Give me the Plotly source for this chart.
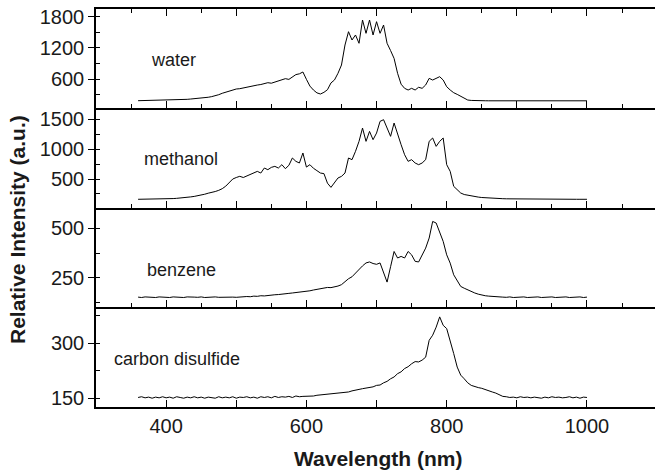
import plotly.graph_objects as go

# ---- data ----
wavelength = list(range(360, 1001, 5))  # nm

water = [
    190, 191, 192, 193, 194, 195, 196, 198,
    200, 202, 204, 206, 209, 212, 216, 222,
    226, 230, 236, 245, 256, 268, 280, 305,
    332, 355, 376, 395, 414, 420, 435, 445,
    470, 478, 490, 500, 515, 535, 525, 548,
    560, 590, 612, 598, 650, 690, 705, 740,
    600, 470, 395, 340, 318, 350, 400, 530,
    587, 715, 874, 1257, 1512, 1353, 1449, 1290,
    1736, 1481, 1736, 1449, 1704, 1481, 1640, 1290,
    1150, 1000, 715, 506, 427, 395, 427, 395,
    447, 427, 491, 618, 586, 618, 650, 586,
    458, 395, 343, 311, 280, 235, 203, 195,
    190, 189, 188, 189, 188, 188, 189, 188,
    188, 189, 188, 188, 189, 188, 188, 189,
    188, 188, 189, 188, 188, 189, 188, 188,
    189, 188, 188, 189, 188, 188, 189, 188,
    188,
]

methanol = [
    160, 160, 161, 162, 163, 164, 165, 166,
    168, 170, 172, 176, 180, 186, 192, 200,
    208, 218, 230, 245, 262, 272, 290, 310,
    338, 380, 440, 500, 525, 545, 525, 550,
    572, 600, 628, 600, 684, 656, 695, 712,
    684, 740, 673, 729, 852, 796, 768, 936,
    700, 740, 680, 640, 600, 590, 430, 360,
    433, 517, 544, 600, 852, 824, 964, 1131,
    1354, 1131, 1298, 1159, 1270, 1466, 1494, 1354,
    1215, 1438, 1242, 1075, 907, 796, 824, 768,
    740, 768, 824, 1131, 1187, 1047, 1131, 1187,
    740, 628, 377, 321, 265, 240, 226, 215,
    204, 197, 190, 185, 180, 177, 174, 172,
    170, 168, 167, 166, 165, 165, 164, 164,
    163, 163, 163, 162, 162, 162, 162, 161,
    161, 161, 161, 161, 160, 160, 160, 160,
    160,
]

benzene = [
    152, 150, 153, 151, 152, 150, 153, 151,
    152, 150, 153, 151, 152, 150, 153, 151,
    152, 151, 153, 150, 152, 151, 153, 151,
    152, 150, 153, 152, 151, 153, 152, 155,
    154, 157, 156, 159, 158, 161, 162, 164,
    165, 168, 169, 171, 173, 175, 176, 179,
    181, 184, 188, 191, 194, 198, 201, 200,
    203, 208, 215, 230, 245, 255, 275, 290,
    310, 325, 330, 322, 318, 325, 280, 228,
    306, 383, 350, 358, 350, 383, 366, 333,
    330, 366, 400, 451, 535, 527, 485, 434,
    366, 324, 265, 235, 206, 197, 188, 180,
    173, 167, 162, 159, 157, 155, 154, 153,
    152, 151, 153, 150, 152, 151, 153, 150,
    152, 151, 153, 150, 152, 151, 153, 150,
    152, 151, 153, 150, 152, 151, 153, 150,
    152,
]

carbon_disulfide = [
    152, 154, 151, 153, 150, 153, 151, 154,
    151, 153, 150, 154, 152, 150, 153, 151,
    154, 151, 153, 150, 153, 152, 150, 154,
    151, 153, 151, 154, 150, 153, 152, 154,
    151, 153, 150, 154, 152, 154, 151, 155,
    152, 154, 153, 155, 152, 156, 154, 155,
    155, 157, 156, 158, 159, 161, 160, 163,
    163, 165, 164, 167, 167, 170, 171, 174,
    176, 177, 180, 181, 185, 186, 192, 196,
    203, 208, 217, 222, 231, 236, 244, 250,
    249, 254, 262, 308, 322, 344, 372, 349,
    340, 308, 272, 235, 213, 203, 192, 185,
    181, 179, 177, 173, 170, 167, 164, 159,
    155, 154, 152, 153, 151, 154, 152, 153,
    151, 153, 152, 150, 153, 151, 154, 152,
    153, 151, 152, 154, 151, 153, 150, 153,
    152,
]

solvents = ["water", "methanol", "benzene", "carbon disulfide"]
series = [water, methanol, benzene, carbon_disulfide]
x_ticks = [400, 500, 600, 700, 800, 900, 1000]
x_ticktext = ["400", "", "600", "", "800", "", "1000"]

# ---- figure ----
W, H = 655, 473
ML, MR, MT, MB = 96, 0, 9, 66
plot_w = W - ML - MR
plot_h = H - MT - MB

def px_x(px):
    return (px - ML) / plot_w

def px_y(py):
    return (H - MB - py) / plot_h

# panel boundaries in pixels (top, bottom)
bounds = [(9, 108), (108, 208), (208, 307), (307, 407)]
y_ranges = [[50, 1947], [14, 1690], [102, 603], [126, 399]]
y_dticks = [600, 500, 250, 150]

FONT = "Liberation Sans, Arial, Helvetica, sans-serif"
TXT = "#1a1a1a"

fig = go.Figure()
for i, s in enumerate(series):
    suffix = "" if i == 0 else str(i + 1)
    fig.add_trace(go.Scatter(
        x=wavelength, y=s, mode="lines",
        line=dict(color="black", width=1),
        xaxis="x" + suffix, yaxis="y" + suffix,
        showlegend=False, hoverinfo="skip",
    ))

layout = dict(
    width=W, height=H,
    margin=dict(l=ML, r=MR, t=MT, b=MB, pad=0),
    paper_bgcolor="white", plot_bgcolor="white",
    font=dict(family=FONT, color=TXT, size=20),
    showlegend=False,
)

for i in range(4):
    suffix = "" if i == 0 else str(i + 1)
    top, bot = bounds[i]
    dom = [px_y(bot), px_y(top)]
    xa = dict(
        domain=[0, 1], range=[300, 1097], anchor="y" + suffix,
        showline=True, linecolor="black", linewidth=1.5,
        showgrid=False, zeroline=False,
        ticks="inside", ticklen=7, tickwidth=1.3, tickcolor="black",
    )
    if i < 3:
        xa.update(
            dtick=100, tick0=0, showticklabels=False,
            minor=dict(ticks="inside", ticklen=4, tickwidth=1, dtick=50, tick0=0,
                       tickcolor="black", showgrid=False),
        )
        if i > 0:
            xa["matches"] = "x"
    else:
        xa.update(
            tickmode="array", tickvals=x_ticks, ticktext=x_ticktext,
            showticklabels=True, tickfont=dict(size=20, family=FONT, color=TXT),
            matches="x",
        )
    if i == 0:
        xa["mirror"] = "ticks"
    ya = dict(
        domain=dom, range=y_ranges[i], anchor="x" + suffix,
        showline=True, linecolor="black", linewidth=1.5,
        showgrid=False, zeroline=False,
        ticks="outside", ticklen=6, tickwidth=1.3, tickcolor="black",
        dtick=y_dticks[i], tick0=0,
        tickfont=dict(size=20, family=FONT, color=TXT),
        minor=dict(ticks="inside", ticklen=4, tickwidth=1, dtick=y_dticks[i] / 2,
                   tick0=0, tickcolor="black", showgrid=False),
    )
    layout["xaxis" + suffix] = xa
    layout["yaxis" + suffix] = ya

fig.update_layout(**layout)

label_pos = [(173.5, 60), (180.5, 159), (181.7, 270), (176.7, 359)]
annotations = []
for name, (ax_, ay_) in zip(solvents, label_pos):
    annotations.append(dict(
        text=name, xref="paper", yref="paper", x=px_x(ax_), y=px_y(ay_),
        xanchor="center", yanchor="middle", showarrow=False,
        font=dict(size=18, family=FONT, color=TXT),
    ))
annotations.append(dict(
    text="<b>Wavelength (nm)</b>", xref="paper", yref="paper",
    x=px_x(378), y=px_y(459), xanchor="center", yanchor="middle",
    showarrow=False, font=dict(size=21, family=FONT, color=TXT),
))
annotations.append(dict(
    text="<b>Relative Intensity (a.u.)</b>", xref="paper", yref="paper",
    x=px_x(17), y=px_y(230), xanchor="center", yanchor="middle",
    textangle=-90, showarrow=False, font=dict(size=21, family=FONT, color=TXT),
))
fig.update_layout(annotations=annotations)

fig.write_html("out.html")
